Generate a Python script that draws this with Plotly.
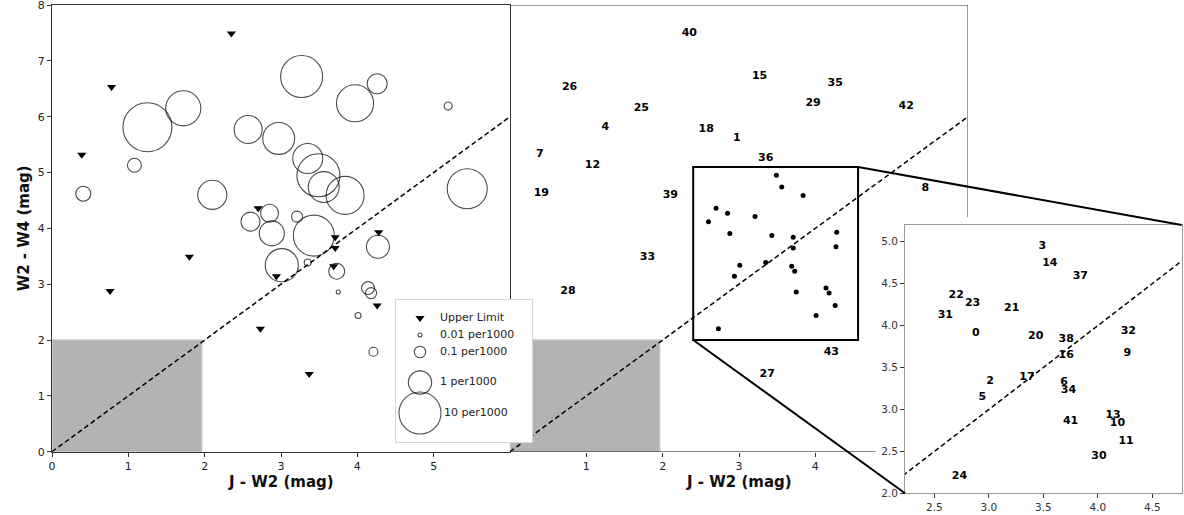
import plotly.graph_objects as go

# colours of the 44 sources (index = label number)
jw2 = [2.88, 2.97, 3.01, 3.49, 1.25, 2.94, 3.69, 0.39, 5.44, 4.27,
       4.18, 4.26, 1.08, 4.14, 3.56, 3.27, 3.71, 3.35, 2.57, 0.41,
       3.43, 3.21, 2.70, 2.85, 2.73, 1.72, 0.78, 3.37, 0.76, 3.97,
       4.01, 2.60, 4.28, 1.80, 3.73, 4.26, 3.35, 3.84, 3.71, 2.10,
       2.35, 3.75, 5.19, 4.21]
w2w4 = [3.91, 5.61, 3.34, 4.95, 5.81, 3.14, 3.32, 5.32, 4.71, 3.67,
        2.84, 2.62, 5.13, 2.93, 4.74, 6.72, 3.65, 3.39, 5.77, 4.62,
        3.87, 4.21, 4.36, 4.27, 2.20, 6.15, 6.53, 1.39, 2.88, 6.24,
        2.44, 4.12, 3.93, 3.49, 3.23, 6.59, 5.25, 4.59, 3.84, 4.60,
        7.49, 2.86, 6.19, 1.79]
# rate per 1000, None = upper limit
rate = [1.3, 3.3, 3.8, 11, 19, None, None, None, 8.2, 0.95,
        0.09, None, 0.18, 0.14, 2.9, 10, None, 0.028, 2.0, 0.22,
        9.0, 0.09, None, 0.40, None, 4.8, None, None, None, 6.0,
        0.02, 0.49, None, None, 0.27, 0.58, 2.6, 6.6, None, 2.3,
        None, 0.01, 0.039, 0.052]

legend_rates = [0.01, 0.1, 1, 10]
one_to_one = [0, 6]

# figure geometry (pixels)
W, H = 1184, 515


def px_x(p):
    return p / W


def px_y(p):
    return (H - p) / H


def to_paper(v, rng, dom):
    return dom[0] + (v - rng[0]) / (rng[1] - rng[0]) * (dom[1] - dom[0])


def rate_size(r):
    return 32 * r ** 0.2 - 8.7


left_dom = [px_x(52), px_x(510)]
right_dom = [left_dom[1], px_x(968)]
main_ydom = [px_y(451.7), px_y(5)]
inset_xdom = [px_x(905), px_x(1181.7)]
inset_ydom = [px_y(493.3), px_y(225)]
leg_xdom = [px_x(396), px_x(532)]
leg_ydom = [px_y(442), px_y(300)]

main_xr, main_yr = [0, 6], [0, 8]
inset_xr, inset_yr = [2.23, 4.77], [2.0, 5.2]
zoom_x, zoom_y = [2.4, 4.56], [2.0, 5.1]

FONT = "DejaVu Sans"
bold = dict(family=FONT, size=11, color="black", weight="bold")
tickfont = dict(family=FONT, size=11, color="#222")

det = [i for i, r in enumerate(rate) if r is not None]
ul = [i for i, r in enumerate(rate) if r is None]
inside = [i for i in range(len(jw2))
          if zoom_x[0] <= jw2[i] <= zoom_x[1] and zoom_y[0] <= w2w4[i] <= zoom_y[1]]
outside = [i for i in range(len(jw2)) if i not in inside]

dash = dict(color="black", width=1.5, dash="5px,3px")

fig = go.Figure()

# left panel
fig.add_trace(go.Scatter(
    x=[jw2[i] for i in det], y=[w2w4[i] for i in det], mode="markers",
    marker=dict(symbol="circle", size=[rate_size(rate[i]) for i in det],
                color="rgba(0,0,0,0)", line=dict(color="black", width=1.1)),
    xaxis="x", yaxis="y"))
fig.add_trace(go.Scatter(
    x=[jw2[i] for i in ul], y=[w2w4[i] for i in ul], mode="markers",
    marker=dict(symbol="triangle-down", size=8, color="black"),
    xaxis="x", yaxis="y"))
fig.add_trace(go.Scatter(x=one_to_one, y=one_to_one, mode="lines", line=dash,
                         xaxis="x", yaxis="y"))

# right panel
fig.add_trace(go.Scatter(x=one_to_one, y=one_to_one, mode="lines", line=dash,
                         xaxis="x2", yaxis="y2"))
fig.add_trace(go.Scatter(
    x=[jw2[i] for i in outside], y=[w2w4[i] for i in outside], mode="text",
    text=[str(i) for i in outside], textposition="middle center", textfont=bold,
    xaxis="x2", yaxis="y2"))
fig.add_trace(go.Scatter(
    x=[jw2[i] for i in inside], y=[w2w4[i] for i in inside], mode="markers",
    marker=dict(size=5, color="black"), xaxis="x2", yaxis="y2"))

# inset
fig.add_trace(go.Scatter(x=one_to_one, y=one_to_one, mode="lines", line=dash,
                         xaxis="x3", yaxis="y3"))
fig.add_trace(go.Scatter(
    x=[jw2[i] for i in inside], y=[w2w4[i] for i in inside], mode="text",
    text=[str(i) for i in inside], textposition="middle center", textfont=bold,
    xaxis="x3", yaxis="y3"))

# legend box (own little subplot, pixel units)
leg_rows = [18, 35, 52, 82.5, 113]
leg_sym_x = 24
fig.add_trace(go.Scatter(
    x=[leg_sym_x], y=[leg_rows[0]], mode="markers",
    marker=dict(symbol="triangle-down", size=8, color="black"),
    xaxis="x4", yaxis="y4"))
fig.add_trace(go.Scatter(
    x=[leg_sym_x] * len(legend_rates), y=leg_rows[1:], mode="markers",
    marker=dict(symbol="circle", size=[rate_size(r) for r in legend_rates],
                color="rgba(0,0,0,0)", line=dict(color="black", width=1.1)),
    xaxis="x4", yaxis="y4"))
fig.add_trace(go.Scatter(
    x=[44, 44, 44, 44, 48], y=leg_rows, mode="text",
    text=["Upper Limit"] + [f"{r:g} per1000" for r in legend_rates],
    textposition="middle right", textfont=dict(family=FONT, size=11, color="#222"),
    xaxis="x4", yaxis="y4"))

shapes = [
    dict(type="rect", xref="x", yref="y", x0=0, x1=1.96, y0=0, y1=2,
         fillcolor="#b3b3b3", line=dict(color="#c4c4c4", width=1.5), layer="below"),
    dict(type="rect", xref="x2", yref="y2", x0=0, x1=1.96, y0=0, y1=2,
         fillcolor="#b3b3b3", line=dict(color="#c4c4c4", width=1.5), layer="below"),
    # right panel frame
    dict(type="line", xref="x2", yref="y2", x0=0, x1=6, y0=8, y1=8,
         line=dict(color="#333", width=1), layer="below"),
    dict(type="line", xref="x2", yref="y2", x0=0, x1=4.79, y0=0, y1=0,
         line=dict(color="#333", width=1), layer="below"),
    dict(type="line", xref="x2", yref="y2", x0=6, x1=6, y0=8, y1=4.2,
         line=dict(color="#333", width=1), layer="below"),
    # zoom box
    dict(type="rect", xref="x2", yref="y2", x0=zoom_x[0], x1=zoom_x[1],
         y0=zoom_y[0], y1=zoom_y[1], line=dict(color="black", width=2), layer="above"),
    # connectors
    dict(type="line", xref="paper", yref="paper",
         x0=to_paper(zoom_x[0], main_xr, right_dom), y0=to_paper(zoom_y[0], main_yr, main_ydom),
         x1=inset_xdom[0], y1=inset_ydom[0], line=dict(color="black", width=2), layer="above"),
    dict(type="line", xref="paper", yref="paper",
         x0=to_paper(zoom_x[1], main_xr, right_dom), y0=to_paper(zoom_y[1], main_yr, main_ydom),
         x1=inset_xdom[1], y1=inset_ydom[1], line=dict(color="black", width=2), layer="above"),
]

title_font = dict(family=FONT, size=15, color="#111", weight="bold")
annotations = [
    dict(text="J - W2 (mag)", xref="paper", yref="paper", xanchor="center",
         yanchor="middle", x=sum(left_dom) / 2, y=px_y(482),
         showarrow=False, font=title_font),
    dict(text="J - W2 (mag)", xref="paper", yref="paper", xanchor="center",
         yanchor="middle", x=sum(right_dom) / 2, y=px_y(482),
         showarrow=False, font=title_font),
    dict(text="W2 - W4 (mag)", xref="paper", yref="paper", textangle=-90,
         xanchor="center", yanchor="middle", x=px_x(24), y=sum(main_ydom) / 2,
         showarrow=False, font=title_font),
]

base = dict(showgrid=False, zeroline=False, ticks="outside", ticklen=4,
            tickwidth=1, tickcolor="#333", tickfont=tickfont,
            ticklabeloverflow="allow", automargin=False)
plain = dict(showticklabels=False, ticks="", showgrid=False, zeroline=False,
             automargin=False)

fig.update_layout(
    width=W, height=H, showlegend=False,
    margin=dict(l=0, r=0, t=0, b=0, autoexpand=False),
    paper_bgcolor="white", plot_bgcolor="white",
    shapes=shapes, annotations=annotations,
    xaxis=dict(base, domain=left_dom, range=main_xr, tickvals=[0, 1, 2, 3, 4, 5],
               showline=True, mirror=True, linecolor="#333", anchor="y"),
    yaxis=dict(base, domain=main_ydom, range=main_yr, tickvals=list(range(9)),
               showline=True, mirror=True, linecolor="#333", anchor="x"),
    xaxis2=dict(base, domain=right_dom, range=main_xr, tickvals=[1, 2, 3, 4],
                showline=False, anchor="y2"),
    yaxis2=dict(plain, domain=main_ydom, range=main_yr, showline=False, anchor="x2"),
    xaxis3=dict(base, domain=inset_xdom, range=inset_xr,
                tickvals=[2.5, 3.0, 3.5, 4.0, 4.5], tickformat=".1f",
                tickfont=dict(family=FONT, size=10.5, color="#333"),
                showline=True, mirror=True, linecolor="#999", anchor="y3"),
    yaxis3=dict(base, domain=inset_ydom, range=inset_yr,
                tickvals=[2.0, 2.5, 3.0, 3.5, 4.0, 4.5, 5.0], tickformat=".1f",
                tickfont=dict(family=FONT, size=10.5, color="#333"),
                showline=True, mirror=True, linecolor="#999", anchor="x3"),
    xaxis4=dict(plain, domain=leg_xdom, range=[0, 136], showline=True, mirror=True,
                linecolor="#d6d6d6", anchor="y4"),
    yaxis4=dict(plain, domain=leg_ydom, range=[142, 0], showline=True, mirror=True,
                linecolor="#d6d6d6", anchor="x4"),
)

# page body has an 8px default margin; drop it so the figure fills the window
fig.write_html("out.html", config={"displayModeBar": False},
               post_script="document.body.style.margin='0px';")
